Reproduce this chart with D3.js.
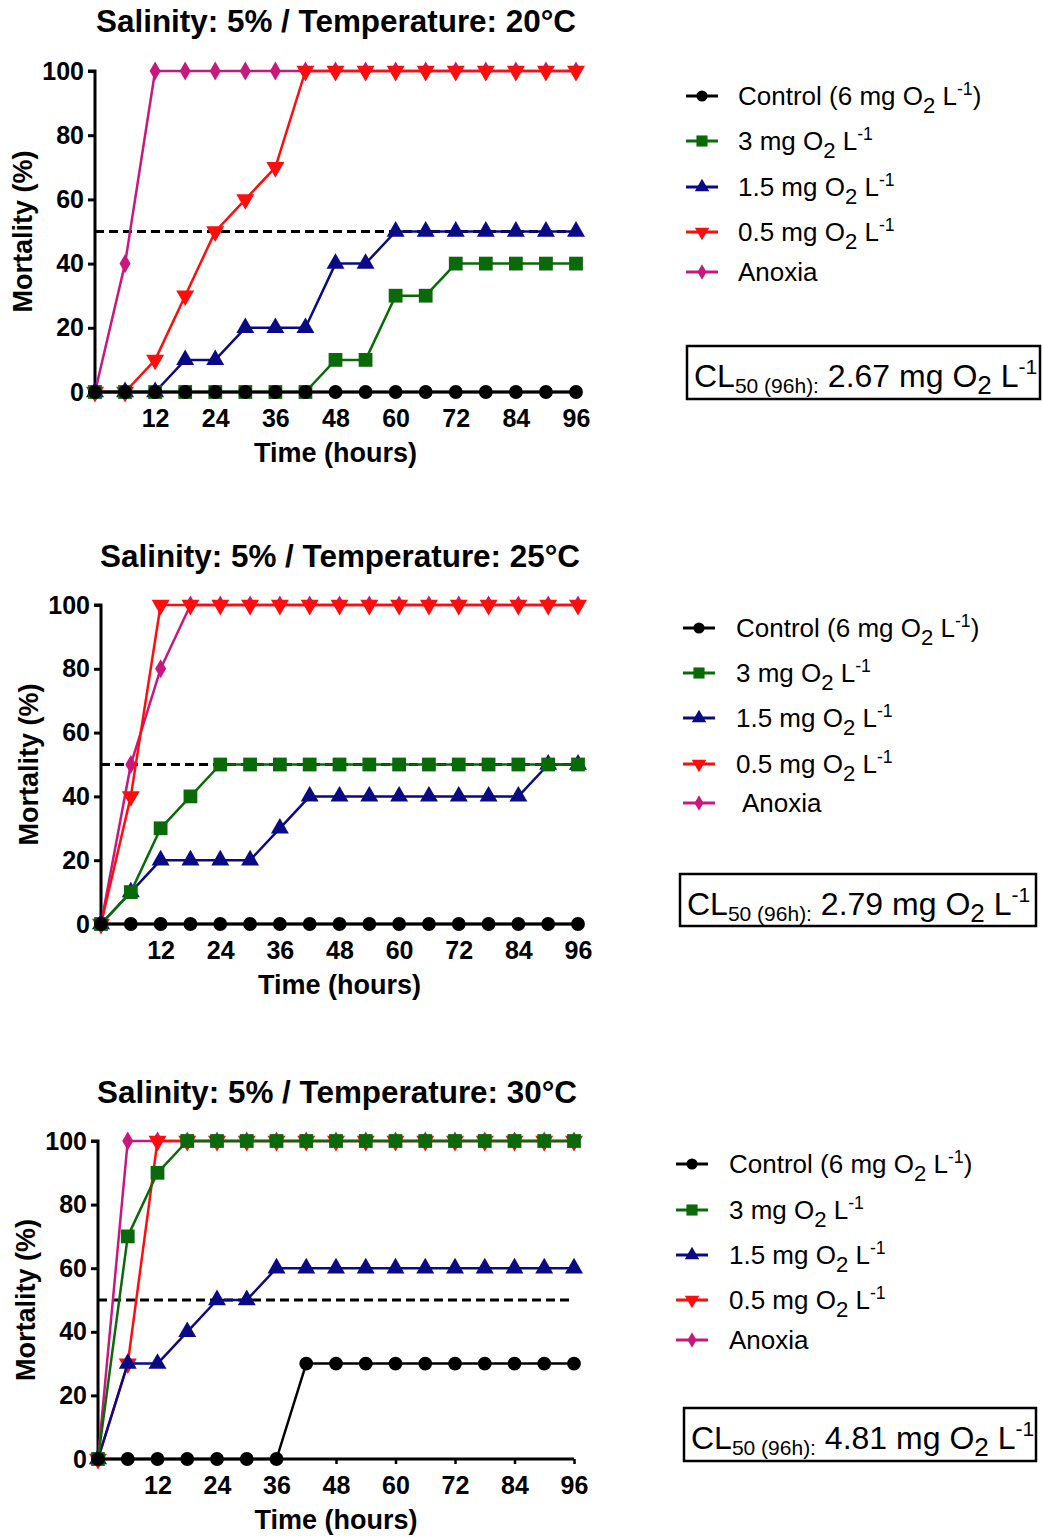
<!DOCTYPE html>
<html>
<head>
<meta charset="utf-8">
<script src="https://cdn.jsdelivr.net/npm/d3@7"></script>
<style>
  html, body { margin: 0; padding: 0; background: #fff; }
  svg { display: block; font-family: "Liberation Sans", Arial, sans-serif; }
</style>
</head>
<body>
<svg id="chart" width="1043" height="1537"></svg>
<script>
// ---------------- DATA ----------------
const times = [0, 6, 12, 18, 24, 30, 36, 42, 48, 54, 60, 66, 72, 78, 84, 90, 96];
const xTickValues = [12, 24, 36, 48, 60, 72, 84, 96];
const yTickValues = [0, 20, 40, 60, 80, 100];
const lethalLine = 50;

const panelTitles = [
  "Salinity: 5% / Temperature: 20°C",
  "Salinity: 5% / Temperature: 25°C",
  "Salinity: 5% / Temperature: 30°C"
];
const cl50Values = ["2.67", "2.79", "4.81"];

const seriesKeys = ["control", "mg3", "mg15", "mg05", "anoxia"];
const seriesLabelMain = ["Control (6 mg O", "3 mg O", "1.5 mg O", "0.5 mg O", "Anoxia"];

// 20 °C
const t20_control = [0, 0, 0, 0, 0, 0, 0, 0, 0, 0, 0, 0, 0, 0, 0, 0, 0];
const t20_mg3     = [0, 0, 0, 0, 0, 0, 0, 0, 10, 10, 30, 30, 40, 40, 40, 40, 40];
const t20_mg15    = [0, 0, 0, 10, 10, 20, 20, 20, 40, 40, 50, 50, 50, 50, 50, 50, 50];
const t20_mg05    = [0, 0, 10, 30, 50, 60, 70, 100, 100, 100, 100, 100, 100, 100, 100, 100, 100];
const t20_anoxia  = [0, 40, 100, 100, 100, 100, 100, 100, 100, 100, 100, 100, 100, 100, 100, 100, 100];

// 25 °C
const t25_control = [0, 0, 0, 0, 0, 0, 0, 0, 0, 0, 0, 0, 0, 0, 0, 0, 0];
const t25_mg3     = [0, 10, 30, 40, 50, 50, 50, 50, 50, 50, 50, 50, 50, 50, 50, 50, 50];
const t25_mg15    = [0, 10, 20, 20, 20, 20, 30, 40, 40, 40, 40, 40, 40, 40, 40, 50, 50];
const t25_mg05    = [0, 40, 100, 100, 100, 100, 100, 100, 100, 100, 100, 100, 100, 100, 100, 100, 100];
const t25_anoxia  = [0, 50, 80, 100, 100, 100, 100, 100, 100, 100, 100, 100, 100, 100, 100, 100, 100];

// 30 °C
const t30_control = [0, 0, 0, 0, 0, 0, 0, 30, 30, 30, 30, 30, 30, 30, 30, 30, 30];
const t30_mg3     = [0, 70, 90, 100, 100, 100, 100, 100, 100, 100, 100, 100, 100, 100, 100, 100, 100];
const t30_mg15    = [0, 30, 30, 40, 50, 50, 60, 60, 60, 60, 60, 60, 60, 60, 60, 60, 60];
const t30_mg05    = [0, 30, 100, 100, 100, 100, 100, 100, 100, 100, 100, 100, 100, 100, 100, 100, 100];
const t30_anoxia  = [0, 100, 100, 100, 100, 100, 100, 100, 100, 100, 100, 100, 100, 100, 100, 100, 100];

const panelData = [
  { control: t20_control, mg3: t20_mg3, mg15: t20_mg15, mg05: t20_mg05, anoxia: t20_anoxia },
  { control: t25_control, mg3: t25_mg3, mg15: t25_mg15, mg05: t25_mg05, anoxia: t25_anoxia },
  { control: t30_control, mg3: t30_mg3, mg15: t30_mg15, mg05: t30_mg05, anoxia: t30_anoxia }
];

// ---------------- STYLE / LAYOUT ----------------
const colors = { control: "#000000", mg3: "#0a6a0a", mg15: "#0a0a85", mg05: "#ff0d0d", anoxia: "#c8187c" };
const symbols = {
  control: { type: d3.symbolCircle, size: 150, rot: 0 },
  mg3:     { type: d3.symbolSquare, size: 190, rot: 0 },
  mg15:    { type: d3.symbolTriangle, size: 140, rot: 0 },
  mg05:    { type: d3.symbolTriangle, size: 140, rot: 180 },
  anoxia:  { type: d3.symbolDiamond, size: 105, rot: 0 }
};
const drawOrder = ["anoxia", "mg05", "mg15", "mg3", "control"];

const layouts = [
  { x0: 95, x1: 576, yTop: 71, yBot: 392, titleX: 336, titleY: 32,
    legX: 686, legTextX: 738, legRows: [96, 141, 187, 232, 272],
    box: { x: 687, y: 346, w: 353, h: 53 } },
  { x0: 101, x1: 578, yTop: 605, yBot: 924, titleX: 340, titleY: 567,
    legX: 683, legTextX: 736, legRows: [628, 673, 718, 764, 803],
    box: { x: 680, y: 874, w: 356, h: 52 } },
  { x0: 98, x1: 574, yTop: 1141, yBot: 1459, titleX: 337, titleY: 1103,
    legX: 676, legTextX: 729, legRows: [1164, 1210, 1255, 1300, 1340],
    box: { x: 684, y: 1408, w: 352, h: 53 } }
];

const svg = d3.select("#chart");
const FONT = "'Liberation Sans', Arial, sans-serif";

function addLabel(sel, key, fontSize) {
  const idx = seriesKeys.indexOf(key);
  const main = seriesLabelMain[idx];
  sel.append("tspan").text(main);
  if (key === "anoxia") return;
  sel.append("tspan").attr("font-size", fontSize * 0.85).attr("dy", fontSize * 0.3).text("2");
  sel.append("tspan").attr("dy", -fontSize * 0.3).text(" L");
  sel.append("tspan").attr("font-size", fontSize * 0.68).attr("dy", -fontSize * 0.4).text("-1");
  if (key === "control") {
    sel.append("tspan").attr("dy", fontSize * 0.4).text(")");
  }
}

layouts.forEach((L, pi) => {
  const data = panelData[pi];
  const g = svg.append("g");

  const x = d3.scaleLinear().domain([0, 96]).range([L.x0, L.x1]);
  const y = d3.scaleLinear().domain([0, 100]).range([L.yBot, L.yTop]);

  // title
  g.append("text")
    .attr("x", L.titleX).attr("y", L.titleY)
    .attr("text-anchor", "middle")
    .attr("font-weight", "bold").attr("font-size", 31)
    .attr("textLength", 480).attr("lengthAdjust", "spacingAndGlyphs")
    .text(panelTitles[pi]);

  // y axis
  const yAxis = d3.axisLeft(y).tickValues(yTickValues).tickSize(7).tickPadding(4).tickFormat(d3.format("d"));
  const ya = g.append("g").attr("transform", `translate(${L.x0},0)`).call(yAxis);
  ya.select(".domain").attr("stroke-width", 3).attr("d", `M-7,${L.yTop}H0V${L.yBot}`);
  ya.selectAll(".tick line").attr("stroke-width", 3);
  ya.selectAll(".tick text").attr("font-size", 25).attr("font-weight", "bold")
    .attr("font-family", FONT).attr("fill", "#000");

  // x axis
  const xAxis = d3.axisBottom(x).tickValues(xTickValues).tickSize(5).tickPadding(12).tickFormat(d3.format("d"));
  const xa = g.append("g").attr("transform", `translate(0,${L.yBot})`).call(xAxis);
  xa.select(".domain").attr("stroke-width", 3).attr("d", `M${L.x0},0H${L.x1}`);
  xa.selectAll(".tick line").attr("stroke-width", 2.5);
  xa.selectAll(".tick text").attr("font-size", 25).attr("font-weight", "bold")
    .attr("font-family", FONT).attr("fill", "#000");

  // axis titles
  g.append("text")
    .attr("x", (L.x0 + L.x1) / 2).attr("y", L.yBot + 70)
    .attr("text-anchor", "middle").attr("font-weight", "bold").attr("font-size", 27)
    .text("Time (hours)");
  g.append("text")
    .attr("transform", `translate(${L.x0 - 63},${(L.yTop + L.yBot) / 2}) rotate(-90)`)
    .attr("text-anchor", "middle").attr("font-weight", "bold").attr("font-size", 27)
    .text("Mortality (%)");

  // 50 % dashed reference line
  g.append("line")
    .attr("x1", x(0)).attr("x2", x(96))
    .attr("y1", y(lethalLine)).attr("y2", y(lethalLine))
    .attr("stroke", "#000").attr("stroke-width", 3)
    .attr("stroke-dasharray", "9,5");

  // series
  const line = d3.line().x((d, i) => x(times[i])).y(d => y(d));
  drawOrder.forEach(key => {
    const vals = data[key];
    g.append("path")
      .attr("d", line(vals))
      .attr("fill", "none").attr("stroke", colors[key]).attr("stroke-width", 2.5)
      .attr("stroke-linejoin", "round");
    const sym = symbols[key];
    const gen = d3.symbol().type(sym.type).size(sym.size);
    g.selectAll(null).data(vals).enter().append("path")
      .attr("d", gen())
      .attr("transform", (d, i) => `translate(${x(times[i])},${y(d)}) rotate(${sym.rot})`)
      .attr("fill", colors[key]);
  });

  // legend
  seriesKeys.forEach((key, i) => {
    const cy = L.legRows[i];
    g.append("line")
      .attr("x1", L.legX).attr("x2", L.legX + 32).attr("y1", cy).attr("y2", cy)
      .attr("stroke", colors[key]).attr("stroke-width", 3);
    const sym = symbols[key];
    g.append("path")
      .attr("d", d3.symbol().type(sym.type).size(sym.size * 0.65)())
      .attr("transform", `translate(${L.legX + 16},${cy}) rotate(${sym.rot})`)
      .attr("fill", colors[key]);
    const t = g.append("text")
      .attr("x", L.legTextX + (key === "anoxia" && pi === 1 ? 6 : 0)).attr("y", cy + 9)
      .attr("font-size", 26).attr("fill", "#000");
    addLabel(t, key, 26);
  });

  // CL50 box
  const B = L.box;
  g.append("rect")
    .attr("x", B.x).attr("y", B.y).attr("width", B.w).attr("height", B.h)
    .attr("fill", "none").attr("stroke", "#000").attr("stroke-width", 2.5);
  const bt = g.append("text")
    .attr("x", B.x + 7).attr("y", B.y + 41)
    .attr("font-size", 32).attr("fill", "#000");
  bt.append("tspan").text("CL");
  bt.append("tspan").attr("font-size", 21).attr("dy", 6).text("50 (96h):");
  bt.append("tspan").attr("dy", -6).text(" " + cl50Values[pi] + " mg O");
  bt.append("tspan").attr("font-size", 26).attr("dy", 7).text("2");
  bt.append("tspan").attr("dy", -7).text(" L");
  bt.append("tspan").attr("font-size", 21).attr("dy", -13).text("-1");
});
</script>
</body>
</html>
